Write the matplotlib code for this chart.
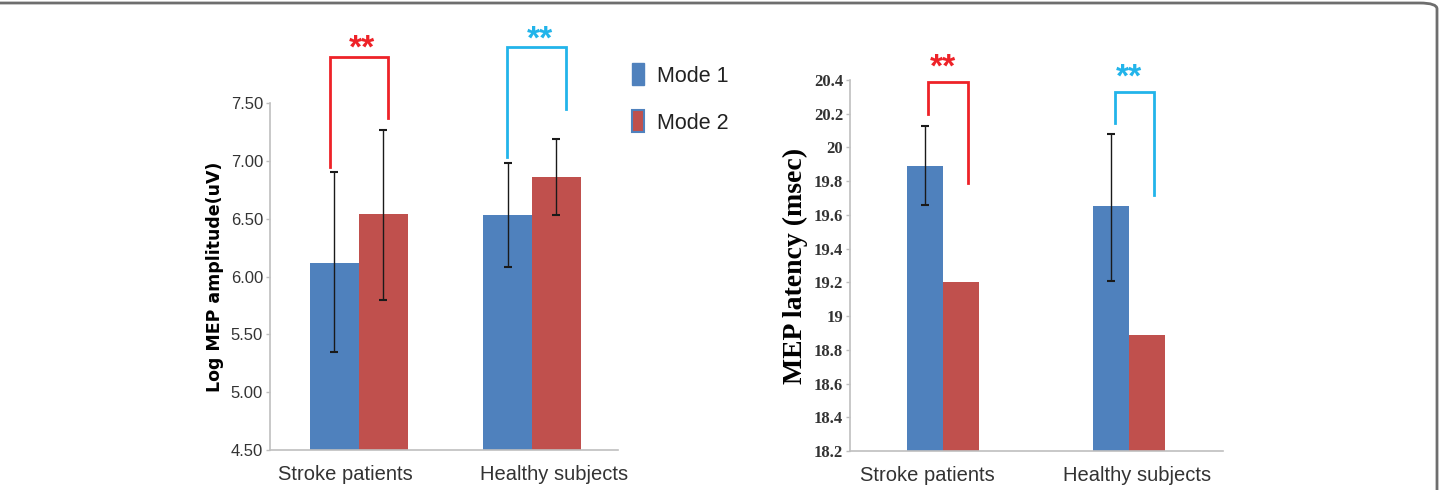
import matplotlib.pyplot as plt
import numpy as np
from matplotlib.patches import Patch, FancyBboxPatch
from matplotlib.transforms import ScaledTranslation

# data
groups = ['Stroke patients', 'Healthy subjects']
amp_mode1 = [6.12, 6.53]
amp_mode2 = [6.54, 6.86]
amp_err1_lo = [5.35, 6.08]
amp_err1_hi = [6.90, 6.98]
amp_err2_lo = [5.80, 6.53]
amp_err2_hi = [7.27, 7.19]
amp_ticks = [4.50, 5.00, 5.50, 6.00, 6.50, 7.00, 7.50]

lat_mode1 = [19.89, 19.65]
lat_mode2 = [19.20, 18.89]
lat_err1_lo = [19.66, 19.21]
lat_err1_hi = [20.13, 20.08]
lat_ticks = [18.2, 18.4, 18.6, 18.8, 19, 19.2, 19.4, 19.6, 19.8, 20, 20.2, 20.4]

# significance brackets: (left foot, top, right foot) in y, and x ends
amp_brackets = [(6.95, 7.90, 7.37), (7.03, 7.98, 7.45)]
amp_bracket_x = [(-0.168, 0.168), (0.855, 1.197)]
lat_brackets = [(20.20, 20.39, 19.79), (20.145, 20.33, 19.72)]
lat_bracket_x = [(-0.08, 0.135), (0.925, 1.135)]
star_colors = ['#EE2228', '#22B4EA']

blue = '#4F81BD'
red = '#C0504D'
axis_grey = '#BFBFBF'
tick_col = '#333333'

fig = plt.figure(figsize=(14.4, 4.9), dpi=100)
W, H = 1440, 490


def px_axes(x0, x1, ytop, ybot):
    return fig.add_axes([x0 / W, (H - ybot) / H, (x1 - x0) / W, (ybot - ytop) / H])


def style(ax, shifts):
    for s in ['top', 'right']:
        ax.spines[s].set_visible(False)
    for s in ['left', 'bottom']:
        ax.spines[s].set_color(axis_grey)
        ax.spines[s].set_linewidth(1.2)
    ax.tick_params(axis='y', color=axis_grey, length=3, width=1, labelcolor=tick_col, pad=2)
    ax.tick_params(axis='x', length=0, pad=11, labelcolor='#333333')
    # the original category labels sit a little off their group centres
    for lab, dx in zip(ax.get_xticklabels(), shifts):
        lab.set_transform(lab.get_transform() + ScaledTranslation(dx / 100, 0, fig.dpi_scale_trans))


def stars(ax, xs, y, color, dy):
    ax.annotate('**', xy=(xs, y), xytext=(0, dy), textcoords='offset points',
                color=color, ha='center', va='baseline', fontsize=24,
                fontweight='bold', fontfamily='Liberation Sans', annotation_clip=False)


x = np.arange(len(groups))

# ---- left: amplitude
ax1 = px_axes(270, 618, 103, 450)
w1 = 0.283
ax1.bar(x - w1 / 2, amp_mode1, w1, color=blue)
ax1.bar(x + w1 / 2, amp_mode2, w1, color=red)
m1 = np.array(amp_mode1); m2 = np.array(amp_mode2)
ax1.errorbar(x - w1 / 2, m1, yerr=[m1 - amp_err1_lo, np.array(amp_err1_hi) - m1],
             fmt='none', ecolor='#1a1a1a', elinewidth=1, capsize=3, capthick=1.5)
ax1.errorbar(x + w1 / 2, m2, yerr=[m2 - amp_err2_lo, np.array(amp_err2_hi) - m2],
             fmt='none', ecolor='#1a1a1a', elinewidth=1, capsize=3, capthick=1.5)
ax1.set_ylim(4.5, 7.5)
ax1.set_xlim(-0.514, 1.497)
ax1.set_yticks(amp_ticks)
ax1.set_yticklabels(['%.2f' % t for t in amp_ticks], fontfamily='Liberation Sans',
                    fontsize=12)
ax1.set_xticks(x)
ax1.set_xticklabels(groups, fontfamily='Liberation Sans', fontsize=14.5)
ax1.set_ylabel('Log MEP amplitude(uV)', fontfamily='DejaVu Sans', fontweight='bold',
               fontsize=12.5, labelpad=5)
style(ax1, [-14, 22])
for i, (lo, top, ro) in enumerate(amp_brackets):
    xl, xr = amp_bracket_x[i]
    ax1.plot([xl, xl, xr, xr], [lo, top, top, ro], color=star_colors[i], lw=2,
             clip_on=False, solid_joinstyle='miter')
    stars(ax1, (xl + xr) / 2 + 0.02, top, star_colors[i], -0.8)

# ---- right: latency
ax2 = px_axes(850, 1223, 80, 451)
w2 = 0.194
ax2.bar(x - w2 / 2, lat_mode1, w2, color=blue)
ax2.bar(x + w2 / 2, lat_mode2, w2, color=red)
l1 = np.array(lat_mode1)
ax2.errorbar(x - w2 / 2, l1, yerr=[l1 - lat_err1_lo, np.array(lat_err1_hi) - l1],
             fmt='none', ecolor='#1a1a1a', elinewidth=1, capsize=3, capthick=1.5)
ax2.set_ylim(18.2, 20.4)
ax2.set_xlim(-0.5, 1.505)
ax2.set_yticks(lat_ticks)
ax2.set_yticklabels([('%g' % t) for t in lat_ticks], fontfamily='Liberation Serif',
                    fontsize=12, fontweight='bold')
ax2.set_xticks(x)
ax2.set_xticklabels(groups, fontfamily='Liberation Sans', fontsize=14.5)
ax2.set_ylabel('MEP latency (msec)', fontfamily='Liberation Serif', fontweight='bold',
               fontsize=20, labelpad=4)
style(ax2, [-16, 8])
for i, (lo, top, ro) in enumerate(lat_brackets):
    xl, xr = lat_bracket_x[i]
    ax2.plot([xl, xl, xr, xr], [lo, top, top, ro], color=star_colors[i], lw=2,
             clip_on=False, solid_joinstyle='miter')
    stars(ax2, (xl + xr) / 2 - 0.03, top, star_colors[i], 3.8)

# ---- legend
handles = [Patch(facecolor=blue, edgecolor=blue, label='Mode 1'),
           Patch(facecolor=red, edgecolor=blue, linewidth=1.5, label='Mode 2')]
leg = fig.legend(handles=handles, loc='upper left', bbox_to_anchor=(613 / W, 1 - 44 / H),
                 frameon=False, handlelength=0.55, handleheight=1.2, handletextpad=0.6,
                 labelspacing=1.1, prop={'family': 'Liberation Sans', 'size': 15.5})
for t in leg.get_texts():
    t.set_color('#222222')

# ---- rounded frame around the panel
frame = FancyBboxPatch((-20 / W, -40 / H), (1437 + 20) / W, (H - 3 + 40) / H,
                       boxstyle='round,pad=0,rounding_size=0.012', transform=fig.transFigure,
                       fill=False, edgecolor='#6E6E6E', linewidth=2, clip_on=False)
fig.add_artist(frame)

fig.savefig('out.png', dpi=100)
